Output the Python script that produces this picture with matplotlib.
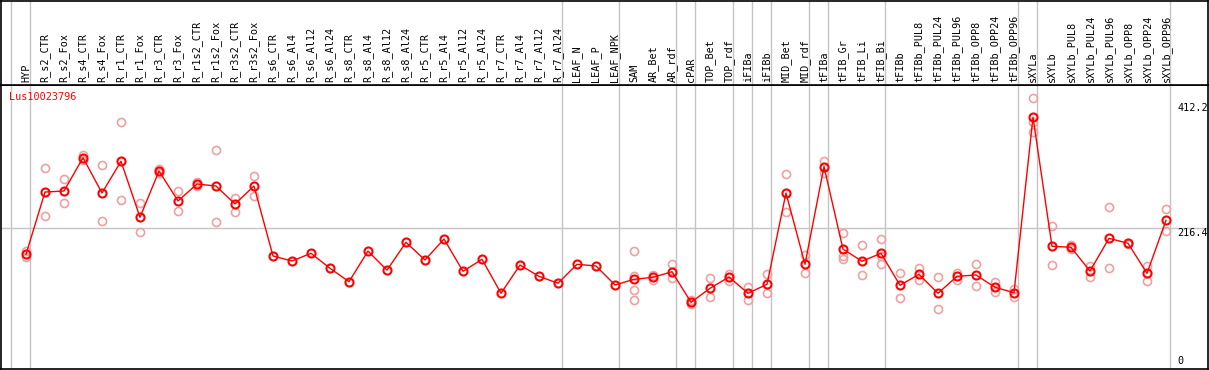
import matplotlib
matplotlib.use("Agg")
import matplotlib.pyplot as plt

# ---------------- data ----------------
samples = ["HYP", "R_s2_CTR", "R_s2_Fox", "R_s4_CTR", "R_s4_Fox", "R_r1_CTR", "R_r1_Fox",
           "R_r3_CTR", "R_r3_Fox", "R_r1s2_CTR", "R_r1s2_Fox", "R_r3s2_CTR", "R_r3s2_Fox",
           "R_s6_CTR", "R_s6_Al4", "R_s6_Al12", "R_s6_Al24", "R_s8_CTR", "R_s8_Al4",
           "R_s8_Al12", "R_s8_Al24", "R_r5_CTR", "R_r5_Al4", "R_r5_Al12", "R_r5_Al24",
           "R_r7_CTR", "R_r7_Al4", "R_r7_Al12", "R_r7_Al24", "LEAF_N", "LEAF_P", "LEAF_NPK",
           "SAM", "AR_Bet", "AR_rdf", "cPAR", "TOP_Bet", "TOP_rdf", "iFIBa", "iFIBb",
           "MID_Bet", "MID_rdf", "tFIBa", "tFIB_Gr", "tFIB_Li", "tFIB_Bi", "tFIBb",
           "tFIBb_PUL8", "tFIBb_PUL24", "tFIBb_PUL96", "tFIBb_OPP8", "tFIBb_OPP24", "tFIBb_OPP96",
           "sXYLa", "sXYLb", "sXYLb_PUL8", "sXYLb_PUL24", "sXYLb_PUL96", "sXYLb_OPP8",
           "sXYLb_OPP24", "sXYLb_OPP96"]

means = [175.6, 273.3, 274.9, 327.1, 271.8, 321.5, 233.6, 306.3, 259.3, 285.9, 282.7, 254.6, 282.7,
         173.0, 165.1, 177.2, 153.7, 132.7, 180.7, 150.8, 194.4, 166.7, 199.6, 149.0, 167.8,
         114.5, 158.8, 141.1, 130.2, 160.0, 157.3, 127.5,
         136.4, 139.6, 148.3, 100.4, 122.3, 140.0, 114.5, 128.6, 271.8, 160.0, 313.1, 183.8,
         164.7, 177.2, 127.0,
         144.3, 114.5, 141.1, 143.2, 123.9, 115.4,
         390.5, 188.2, 186.6, 149.4, 200.7, 192.9, 145.8, 228.9]

replicates = [
    [181, 171], [310.5, 235.2], [293.2, 255.6], [331, 323], [315.2, 227.8], [383.6, 260.3],
    [255.6, 210.1], [309.9, 303.0], [274.9, 243.1], [289.5, 283.0], [338.7, 225.8],
    [263.4, 242.5], [298.4, 266.6],
    [], [], [], [], [], [], [], [], [], [], [], [], [], [], [], [], [], [], [],
    [180.7, 141.6, 119.2, 103.5], [143.5, 136.0], [160.4, 138.0], [103.5, 97.2],
    [138.0, 108.2], [144.7, 133.3], [124.8, 103.5], [144.7, 114.5], [301.1, 241.5],
    [174.5, 145.8], [321.5, 302.6], [209, 173, 167.8], [189.7, 142.7], [199.1, 173.4, 160],
    [146.8, 106.6],
    [154.6, 134.9], [139.6, 89.4], [146.8, 134.9], [160, 125.9], [132.7, 116], [120.7, 109.1],
    [420.3, 383.6, 366.9], [220, 158.4], [189.7, 183.5], [157.8, 139.6], [249.3, 153.7],
    [192, 194], [157.3, 134.2], [246.2, 212.2],
]

# indices of the last sample of each group (separator drawn after them)
group_ends = [-1, 0, 28, 31, 34, 35, 37, 38, 39, 41, 42, 45, 52, 53, 60]
gene = "Lus10023796"
ytick_vals = [412.2, 216.4, 0]
ytick_labels = ["412.2", "216.4", "0"]
grid_vals = [216.4]

# ---------------- layout ----------------
W, H = 1209, 370
fig = plt.figure(figsize=(W / 100, H / 100), dpi=100)

def px_x(p):
    return (p - 26) / 19.0

y0_px, scale = 366.3, 0.6377
def px_y(p):
    return (y0_px - p) / scale

top_main, bot_main = 85, 369
ax = fig.add_axes([1 / W, (H - bot_main) / H, (1208 - 1) / W, (bot_main - top_main) / H])
hx = fig.add_axes([1 / W, (H - top_main) / H, (1208 - 1) / W, (top_main - 0.5) / H], sharex=ax)

ax.set_xlim(px_x(1), px_x(1208))
ax.set_ylim(px_y(bot_main), px_y(top_main))
hx.set_ylim(0, 1)

mono = "DejaVu Sans Mono"
sep_color = "#c4c4c4"
for a in (ax, hx):
    a.set_xticks([])
    a.set_yticks([])
    for s in a.spines.values():
        s.set_color("black")
        s.set_linewidth(1.2)
    for g in group_ends:
        a.axvline(g + 0.23, color=sep_color, lw=1.0, zorder=0)

for gv in grid_vals:
    ax.axhline(gv, color=sep_color, lw=1.0, zorder=0)

# header labels
for i, name in enumerate(samples):
    hx.text(i, 0.03, name, rotation=90, ha="center", va="bottom",
            fontsize=7.3, family=mono, color="black")

# replicates
rx, ry = [], []
for i, reps in enumerate(replicates):
    for v in reps:
        rx.append(i)
        ry.append(v)
ax.plot(rx, ry, linestyle="none", marker="o", markersize=5.8, markerfacecolor="none",
        markeredgecolor="#f0a0a0", markeredgewidth=1.2, zorder=2)

# mean line
xs = list(range(len(samples)))
ax.plot(xs, means, color="red", lw=1.0, marker="o", markersize=5.8,
        markerfacecolor="none", markeredgecolor="red", markeredgewidth=1.5, zorder=3)

# gene name
ax.text(px_x(9), px_y(97), gene, color="red", fontsize=7.3, family=mono,
        ha="left", va="center")

# y labels on the right
for v, lab in zip(ytick_vals, ytick_labels):
    ax.text(px_x(1177), v, lab, fontsize=7.3, family=mono, color="black",
            ha="left", va="bottom" if v == 0 else "top", clip_on=True)

fig.savefig("out.png", dpi=100)
